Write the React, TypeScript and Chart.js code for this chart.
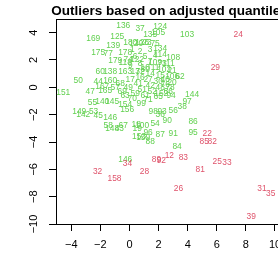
import React, { useEffect, useRef } from "react";
import { Chart, registerables } from "chart.js";

Chart.register(...registerables);

const titleText = "Outliers based on adjusted quantiles";
const xTickValues = [-4, -2, 0, 2, 4, 6, 8, 10];
const yTickValues = [-10, -8, -6, -4, -2, 0, 2, 4];

const greenLabels = [
  "136", "37", "124", "103", "169", "125", "139", "175", "77", "135", "105", "23", "180", "126", "120",
  "134", "114", "108", "109", "111", "102", "21", "80", "106", "62", "20", "152", "94", "144", "97",
  "38", "56", "98", "93", "36", "99", "90", "86", "54", "87", "91", "95", "84", "88", "96",
  "19", "18", "100", "153", "159", "58", "67", "148", "43", "146", "146", "142", "45", "149", "53",
  "55", "140", "145", "154", "156", "151", "50", "47", "165", "167", "57", "44", "160", "60", "138",
  "163", "178", "179", "118", "122",
  "1", "2", "3", "4", "5", "6", "7", "8", "9", "10", "11", "13", "14", "15", "16", "17", "27", "30", "40", "41",
  "42", "48", "49", "51", "52", "59", "61", "63", "65", "66", "68", "69", "70", "71", "72", "73", "74", "75", "76", "78",
];
const greenX = [
  -0.43, 0.73, 2.11, 3.96, -2.49, -0.84, -1.12, -2.15, -1.46, 1.42, 1.97, 1.21, 0.05, 0.87, 0.46,
  2.11, 2.11, 3.0, 1.76, 2.66, 2.38, 2.93, 1.08, 2.93, 3.48, 2.93, 2.18, 2.86, 4.3, 3.96,
  3.62, 3.0, 1.63, 2.24, 2.11, 0.8, 2.59, 4.37, 1.76, 2.11, 3.0, 4.37, 3.27, 1.42, 1.28,
  0.53, 0.46, 0.87, 0.66, 0.94, -1.46, -0.43, -1.19, -0.7, -1.33, -0.29, -3.18, -2.15, -3.45, -2.47,
  -2.54, -1.87, -1.19, -0.3, -0.16, -4.55, -3.52, -2.7, -1.67, -1.87, -0.98, -2.15, -1.33, -2.01, -1.33,
  -0.3, -0.3, -0.98, -0.3, 0.53,
  0.19, 0.73, 1.42, 1.76, 1.08, 0.39, 1.42, 0.73, 0.05, 1.08, 1.76, 0.39, 1.42, 2.11, 0.73, 0.05, 1.28, 1.97, 2.45, 0.6,
  1.42, 2.11, -0.09, 0.87, 1.56, 0.39, 1.08, -0.3, 1.97, 2.66, -0.64, -0.5, 0.19, 1.28, 0.73, 2.24, -0.09, 1.76, 2.45, 2.79,
];
const greenY = [
  4.52, 4.3, 4.44, 3.86, 3.56, 3.71, 3.05, 2.54, 2.46, 3.86, 4.0, 3.27, 3.27, 3.27, 3.2,
  2.83, 2.39, 2.17, 1.8, 1.73, 1.29, 1.22, 1.29, 0.78, 0.78, 0.34, -0.47, -0.62, -0.54, -1.06,
  -1.42, -1.72, -1.79, -1.79, -2.0, -1.2, -2.45, -2.52, -2.67, -3.48, -3.4, -3.33, -4.35, -3.99, -3.33,
  -3.04, -2.74, -2.82, -3.63, -3.7, -2.82, -2.82, -3.04, -3.04, -2.24, -5.32, -2.02, -2.09, -1.79, -1.79,
  -1.13, -1.06, -1.06, -1.28, -1.64, -0.4, 0.48, -0.32, -0.25, 0.04, -0.03, 0.41, 0.48, 1.14, 1.14,
  1.14, 2.54, 1.95, 1.8, 2.02,
  2.76, 2.61, 2.76, 2.32, 2.24, 2.24, 1.88, 1.73, 1.58, 1.44, 1.44, 1.14, 1.0, 0.85, 0.7, 0.56, 0.56, 0.41, 0.56, 0.26,
  0.12, -0.03, -0.03, -0.18, -0.32, -0.47, -0.62, -0.62, -0.69, -0.32, 0.26, -0.32, -0.84, -0.91, 1.14, 1.73, 2.02, 3.2, 0.19, -0.03,
];

const redLabels = ["24", "29", "22", "85", "82", "12", "83", "89", "92", "34", "25", "33", "81", "32", "28", "158", "26", "31", "35", "39"];
const redX = [7.47, 5.9, 5.34, 5.14, 5.68, 2.74, 3.7, 1.85, 2.19, -0.14, 6.03, 6.7, 4.86, -2.19, 1.03, -1.03, 3.36, 9.1, 9.7, 8.36];
const redY = [3.85, 1.45, -3.42, -4.0, -4.0, -5.0, -5.16, -5.3, -5.38, -5.6, -5.45, -5.5, -6.04, -6.18, -6.18, -6.69, -7.42, -7.42, -7.78, -9.45];

const GREEN = "#61D04F";
const RED = "#DF536B";
const FONT = '"Liberation Sans", Arial, Helvetica, sans-serif';

const fmt = (v: number) => (v < 0 ? "\u2212" + Math.abs(v) : String(v));

const textPlugin = {
  id: "textLabels",
  afterDatasetsDraw(chart: any) {
    const ctx = chart.ctx;
    ctx.save();
    ctx.font = `8.4px ${FONT}`;
    ctx.textAlign = "center";
    ctx.textBaseline = "middle";
    chart.data.datasets.forEach((ds: any, di: number) => {
      const meta = chart.getDatasetMeta(di);
      ctx.fillStyle = ds.textColor;
      meta.data.forEach((el: any, i: number) => {
        ctx.fillText(ds.labelsText[i], el.x, el.y);
      });
    });
    ctx.restore();
  },
};

const decoPlugin = {
  id: "deco",
  afterDraw(chart: any) {
    const ctx = chart.ctx;
    const a = chart.chartArea;
    ctx.save();
    ctx.strokeStyle = "#000";
    ctx.lineWidth = 1;
    ctx.beginPath();
    const t = Math.round(a.top) + 0.5;
    const r = Math.round(a.right) + 0.5;
    ctx.moveTo(Math.round(a.left), t);
    ctx.lineTo(r, t);
    ctx.lineTo(r, Math.round(a.bottom));
    ctx.stroke();
    // y tick labels, rotated like R
    const ys = chart.scales.y;
    ctx.fillStyle = "#000";
    ctx.font = `11px ${FONT}`;
    ctx.textAlign = "center";
    ctx.textBaseline = "middle";
    yTickValues.forEach((v) => {
      const py = ys.getPixelForValue(v);
      ctx.save();
      ctx.translate(34, py);
      ctx.rotate(-Math.PI / 2);
      ctx.fillText(fmt(v), 0, 0);
      ctx.restore();
    });
    // title
    ctx.font = `bold 13.5px ${FONT}`;
    ctx.textBaseline = "alphabetic";
    ctx.fillText(titleText, (a.left + a.right) / 2, 15);
    ctx.restore();
  },
};

export default function App() {
  const ref = useRef<HTMLCanvasElement | null>(null);
  useEffect(() => {
    if (!ref.current) return;
    const chart = new Chart(ref.current, {
      type: "scatter",
      data: {
        datasets: [
          {
            data: greenX.map((x, i) => ({ x, y: greenY[i] })),
            pointRadius: 0,
            showLine: false,
            labelsText: greenLabels,
            textColor: GREEN,
          } as any,
          {
            data: redX.map((x, i) => ({ x, y: redY[i] })),
            pointRadius: 0,
            showLine: false,
            labelsText: redLabels,
            textColor: RED,
          } as any,
        ],
      },
      options: {
        animation: false,
        responsive: false,
        devicePixelRatio: 1,
        layout: { padding: { top: 19, right: 37, left: 0, bottom: 0 } },
        plugins: { legend: { display: false }, tooltip: { enabled: false }, title: { display: false } },
        events: [],
        scales: {
          x: {
            type: "linear",
            position: "bottom",
            min: -5.05,
            max: 10.55,
            afterBuildTicks: (s: any) => {
              s.ticks = xTickValues.map((v) => ({ value: v }));
            },
            afterFit: (s: any) => {
              s.height = 30;
            },
            grid: { display: true, drawOnChartArea: false, drawTicks: true, tickLength: 7, color: "#000", lineWidth: 1 },
            border: { display: true, color: "#000", width: 1 },
            ticks: {
              color: "#000",
              font: { family: FONT, size: 11 },
              padding: 7,
              maxRotation: 0,
              autoSkip: false,
              callback: (v: any) => fmt(Number(v)),
            },
          },
          y: {
            type: "linear",
            position: "left",
            min: -10,
            max: 5,
            afterBuildTicks: (s: any) => {
              s.ticks = yTickValues.map((v) => ({ value: v }));
            },
            afterFit: (s: any) => {
              s.width = 56;
            },
            grid: { display: true, drawOnChartArea: false, drawTicks: true, tickLength: 7, color: "#000", lineWidth: 1 },
            border: { display: true, color: "#000", width: 1 },
            ticks: { display: false },
          },
        },
      } as any,
      plugins: [textPlugin, decoPlugin],
    });
    return () => chart.destroy();
  }, []);
  return (
    <div style={{ position: "fixed", left: 0, top: 0, width: 278, height: 254, overflow: "hidden", background: "#fff" }}>
      <canvas ref={ref} width={320} height={254} style={{ display: "block" }} />
    </div>
  );
}
